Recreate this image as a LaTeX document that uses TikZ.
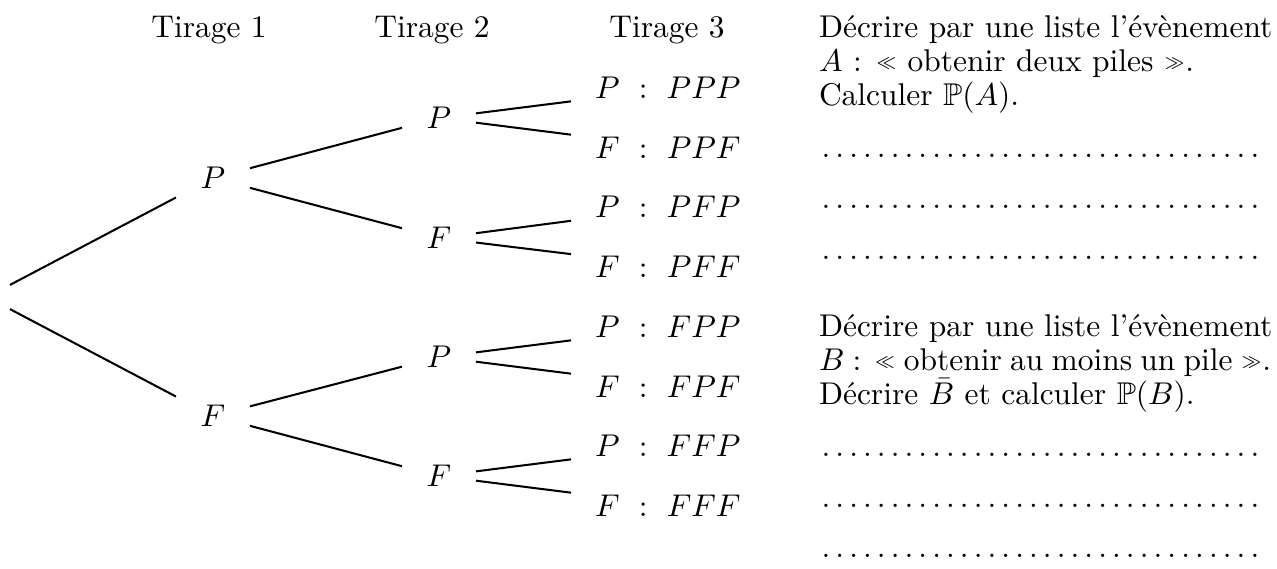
\documentclass[tikz,border=0pt]{standalone}
\usepackage{amssymb}
\usepackage{fontspec}
% small raised guillemets built from \ll and \gg
\newcommand\guilo{\leavevmode\raise0.25ex\hbox{$\scriptscriptstyle\ll$}}
\newcommand\guilf{\leavevmode\raise0.25ex\hbox{$\scriptscriptstyle\gg$}}
% a row of dots for the answer lines
\newcommand\dotrow{\hbox to 143.74pt{\leaders\hbox to 0.44em{\hss.\hss}\hfill}}
\begin{document}
\begin{tikzpicture}[x=0.318pt,y=-0.318pt,line width=0.65pt,
  rootnode/.style={minimum width=13.99pt,minimum height=13.99pt,inner sep=0pt},
  lvl/.style={minimum width=22.9pt,minimum height=13.99pt,inner sep=0pt},
  leaf/.style={text width=52.15pt,align=left,inner xsep=7.31pt,inner ysep=0pt,minimum height=13.99pt},
  head/.style={anchor=base,inner sep=0pt},
  txt/.style={anchor=base west,inner sep=0pt}]
\useasboundingbox (0,0) rectangle (1277,568);

% probability tree: root, first, second and third draw
\node[rootnode] (r) at (-13,297) {};
\node[lvl] (p) at (213,178) {$P$};
\node[lvl] (f) at (213,416) {$F$};
\node[lvl] (pp) at (439,118) {$P$};
\node[lvl] (pf) at (439,238) {$F$};
\node[lvl] (fp) at (439,357) {$P$};
\node[lvl] (ff) at (439,476) {$F$};
\node[leaf] (ppp) at (677,88)  {$P\ :\ PPP$};
\node[leaf] (ppf) at (677,148) {$F\ :\ PPF$};
\node[leaf] (pfp) at (677,207) {$P\ :\ PFP$};
\node[leaf] (pff) at (677,267) {$F\ :\ PFF$};
\node[leaf] (fpp) at (677,327) {$P\ :\ FPP$};
\node[leaf] (fpf) at (677,387) {$F\ :\ FPF$};
\node[leaf] (ffp) at (677,446) {$P\ :\ FFP$};
\node[leaf] (fff) at (677,506) {$F\ :\ FFF$};

\draw (r) -- (p);  \draw (r) -- (f);
\draw (p) -- (pp); \draw (p) -- (pf);
\draw (f) -- (fp); \draw (f) -- (ff);
\draw (pp) -- (ppp); \draw (pp) -- (ppf);
\draw (pf) -- (pfp); \draw (pf) -- (pff);
\draw (fp) -- (fpp); \draw (fp) -- (fpf);
\draw (ff) -- (ffp); \draw (ff) -- (fff);

% column headings
\node[head] (t1) at (209,37) {Tirage 1};
\node[head] (t2) at (432,37) {Tirage 2};
\node[head] (t3) at (667,37) {Tirage 3};

% questions with answer lines
\node[txt] (a1) at (818,37)  {Décrire par une liste l'évènement};
\node[txt] (a2) at (818,71)  {$A$ : \guilo~obtenir deux piles~\guilf.};
\node[txt] (a3) at (818,105) {Calculer $\mathbb{P}(A)$.};
\node[txt] (a4) at (818,157) {\dotrow};
\node[txt] (a5) at (818,208) {\dotrow};
\node[txt] (a6) at (818,259) {\dotrow};

\node[txt] (b1) at (818,336) {Décrire par une liste l'évènement};
\node[txt] (b2) at (818,370) {\makebox[143.74pt][s]{$B$ : \guilo~obtenir au moins un pile~\guilf.}};
\node[txt] (b3) at (818,404) {Décrire $\bar{B}$ et calculer $\mathbb{P}(B)$.};
\node[txt] (b4) at (818,456) {\dotrow};
\node[txt] (b5) at (818,507) {\dotrow};
\node[txt] (b6) at (818,557) {\dotrow};
\end{tikzpicture}
\end{document}
